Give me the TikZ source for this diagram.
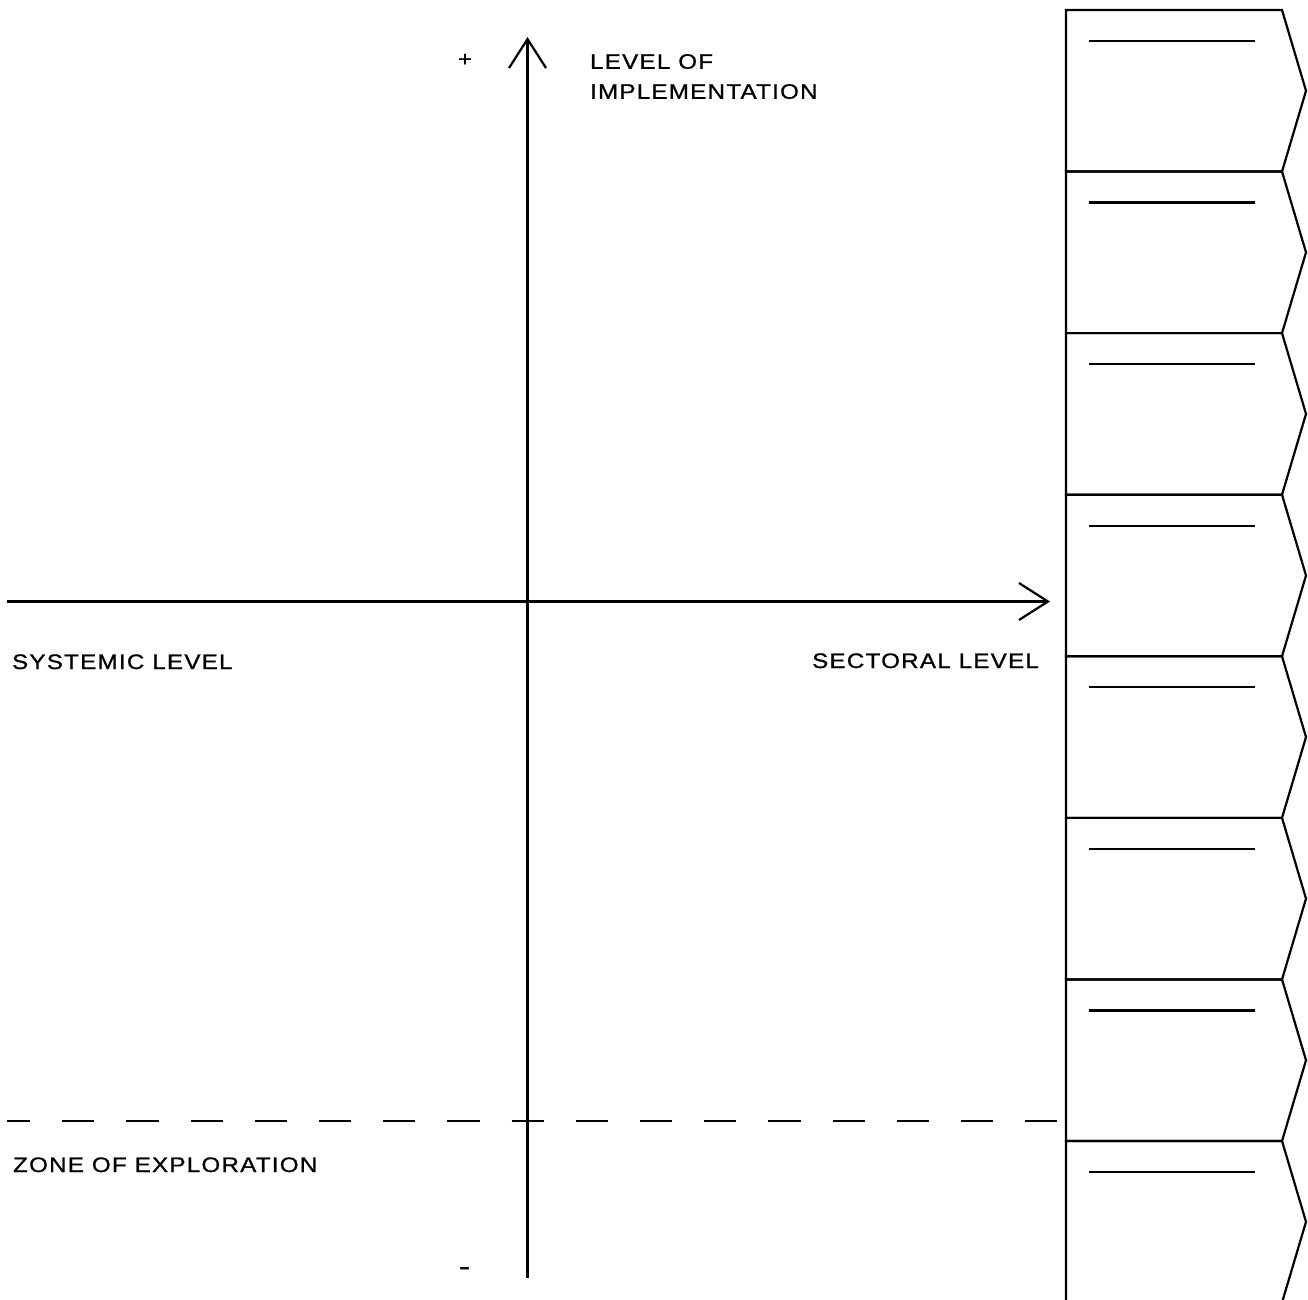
\documentclass[tikz,border=0pt]{standalone}
\usepackage{fontspec}
\setmainfont{Liberation Sans}[LetterSpace=6,FakeStretch=1.15,FakeBold=0.9]
\usetikzlibrary{arrows.meta}
\begin{document}
\begin{tikzpicture}[x=1pt,y=-1pt,
  line width=2.2pt,
  axis/.style={line width=2.2pt,-{Straight Barb[length=29pt,width=37pt,line width=2.2pt]}},
  zone/.style={line width=2.2pt,dash pattern=on 32.1pt off 32.1pt,dash phase=9pt},
  panel/.style={line width=2.2pt,line join=miter},
  label/.style={inner sep=0pt,font=\fontsize{21}{30}\selectfont}]
  \useasboundingbox (0,0) rectangle (1308,1299);

  % axes
  \coordinate (xstart) at (7,601.5);
  \coordinate (xend) at (1050,601.5);
  \coordinate (ystart) at (527.5,1278);
  \coordinate (yend) at (527.5,37);
  \draw[axis] (xstart) -- (xend);
  \draw[axis] (ystart) -- (yend);

  % boundary of the exploration zone
  \coordinate (zstart) at (7,1121);
  \coordinate (zend) at (1058,1121);
  \draw[zone] (zstart) -- (zend);

  % column of stacked chevron panels
  \foreach \i in {0,...,7}{
    \pgfmathsetmacro{\top}{10+161.57*\i}
    \pgfmathsetmacro{\bot}{10+161.57*(\i+1)}
    \pgfmathsetmacro{\mid}{10+161.57*(\i+0.5)}
    \pgfmathsetmacro{\rule}{\top+31}
    \draw[panel] (1066,\bot) -- (1066,\top) -- (1282,\top) -- (1306,\mid) -- (1282,\bot) -- cycle;
    \draw (1089,\rule) -- (1255,\rule);
  }

  % labels
  \node[label,anchor=center] (plus) at (465,60) {+};
  \node[label,anchor=center] (minus) at (464.5,1271) {\scalebox{1.4}[1.2]{-}};
  \node[label,anchor=north west,align=left] (impl) at (589,53) {LEVEL OF\\IMPLEMENTATION};
  \node[label,anchor=base west] (sys) at (11,669) {SYSTEMIC LEVEL};
  \node[label,anchor=base east] (sec) at (1040,668) {SECTORAL LEVEL};
  \node[label,anchor=base west] (zone) at (12,1172) {ZONE OF EXPLORATION};
\end{tikzpicture}
\end{document}
